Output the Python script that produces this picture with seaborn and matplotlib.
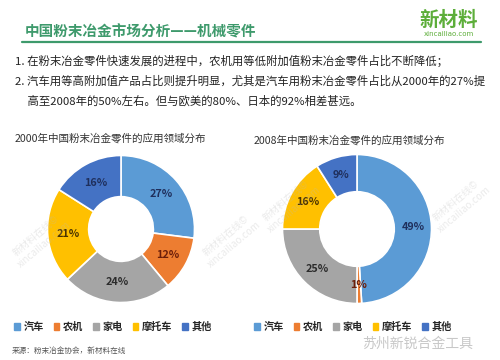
import matplotlib
matplotlib.use('Agg')
import matplotlib.pyplot as plt
import numpy as np
import seaborn as sns

# data
categories = ['汽车', '农机', '家电', '摩托车', '其他']
share_2000 = [27, 12, 24, 21, 16]
share_2008 = [49, 1, 25, 16, 9]
title_2000 = '2000年中国粉末冶金零件的应用领域分布'
title_2008 = '2008年中国粉末冶金零件的应用领域分布'

sns.set_theme(style='white')
plt.rcParams['font.family'] = ['Noto Sans CJK SC', 'DejaVu Sans']

colors = sns.color_palette(['#5B9BD5', '#ED7D31', '#A5A5A5', '#FFC000', '#4472C4'])
label_colors = ['#1F2F5C', '#6B1E0A', '#2B2B2B', '#4A3300', '#1F2F5C']
green = '#3E9A6C'

W, H = 500, 360
fig = plt.figure(figsize=(W / 100, H / 100), dpi=100)
fig.patch.set_facecolor('white')


def px(x, y):
    return x / W, 1 - y / H


def donut(ax, vals, hole):
    wedges, _ = ax.pie(vals, colors=colors, startangle=90, counterclock=False,
                       radius=1, wedgeprops=dict(width=1 - hole, edgecolor='white', linewidth=1.2))
    r = (1 + hole) / 2
    for w, v, lc in zip(wedges, vals, label_colors):
        ang = np.deg2rad((w.theta1 + w.theta2) / 2)
        ax.text(r * np.cos(ang), r * np.sin(ang), f'{v}%', ha='center', va='center',
                fontsize=7.8, fontweight='bold', color=lc)
    ax.set_xlim(-1.02, 1.02)
    ax.set_ylim(-1.02, 1.02)
    ax.set_aspect('equal')
    ax.axis('off')


# donut axes placed by pixel box
def add_ax(x0, y0, x1, y1):
    return fig.add_axes([x0 / W, 1 - y1 / H, (x1 - x0) / W, (y1 - y0) / H])


ax1 = add_ax(46, 153, 196, 305)
donut(ax1, share_2000, 0.44)
ax2 = add_ax(281, 153, 433, 305)
donut(ax2, share_2008, 0.50)

# faint diagonal watermarks
for (x, y) in [(40, 240), (230, 240), (290, 205), (460, 205)]:
    fig.text(*px(x, y), '新材料在线©\nxincailiao.com', fontsize=7, color='#BBBBBB', alpha=0.3,
             rotation=40, ha='center', va='center')

# header
fig.text(*px(25, 32), '中国粉末冶金市场分析——机械零件', fontsize=10.5, fontweight='bold',
         color=green, va='center', ha='left')
fig.add_artist(plt.Line2D([22 / W, 481 / W], [1 - 42 / H, 1 - 42 / H], color=green, lw=1.6))
fig.text(*px(449, 20), '新材料', fontsize=14, fontweight='bold', color='#5DAE3A',
         ha='center', va='center')
fig.text(*px(449, 34), 'xincailiao.com', fontsize=5, color='#5DAE3A', ha='center', va='center',
         family=['DejaVu Sans'])

# bullets
bullets = ['1. 在粉末冶金零件快速发展的进程中，农机用等低附加值粉末冶金零件占比不断降低；',
           '2. 汽车用等高附加值产品占比则提升明显，尤其是汽车用粉末冶金零件占比从2000年的27%提',
           '     高至2008年的50%左右。但与欧美的80%、日本的92%相差甚远。']
for i, b in enumerate(bullets):
    fig.text(*px(15, 61 + i * 20), b, fontsize=8.2, color='#222222', va='center', ha='left')

# chart titles
fig.text(*px(15, 138), title_2000, fontsize=7.6, color='#333333', va='center', ha='left')
fig.text(*px(254, 140), title_2008, fontsize=7.6, color='#333333', va='center', ha='left')

# legends
handles = [plt.Rectangle((0, 0), 1, 1, color=c) for c in colors]
for xc in (113, 353):
    fig.legend(handles, categories, loc='center', bbox_to_anchor=(xc / W, 1 - 327 / H),
               ncol=5, frameon=False, handlelength=0.55, handleheight=0.55,
               handletextpad=0.35, columnspacing=1.0, prop={'weight': 'bold', 'size': 7.3})

# source and watermark
fig.text(*px(12, 351), '来源：粉末冶金协会，新材料在线', fontsize=5.5, color='#555555',
         va='center', ha='left')
fig.text(*px(362, 344), '苏州新锐合金工具', fontsize=10, color='#C8C8C8', va='center', ha='left')

fig.savefig('out.png', dpi=100, facecolor='white')
